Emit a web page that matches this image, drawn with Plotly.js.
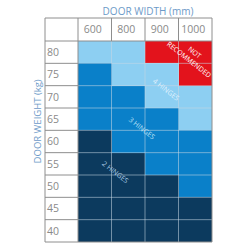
<!DOCTYPE html>
<html><head><meta charset="utf-8">
<script src="https://cdn.plot.ly/plotly-3.0.1.min.js"></script>
<style>html,body{margin:0;padding:0;background:#fff}#c{width:250px;height:250px}</style>
</head><body><div id="c"></div>
<script>
// Door width columns (mm)
const widths = ['600', '800', '900', '1000'];
// Door weight rows (kg), top to bottom
const weights = ['80', '75', '70', '65', '60', '55', '50', '45', '40'];
// Hinge category per cell: 0 = 2 hinges, 1 = 3 hinges, 2 = 4 hinges, 3 = not recommended
const hingeClass = [
  [2, 2, 3, 3],
  [1, 2, 2, 3],
  [1, 1, 2, 2],
  [1, 1, 1, 2],
  [0, 1, 1, 1],
  [0, 0, 1, 1],
  [0, 0, 0, 1],
  [0, 0, 0, 0],
  [0, 0, 0, 0]
];
const classNames = ['2 HINGES', '3 HINGES', '4 HINGES', 'NOT<br>RECOMMENDED'];

const cDark = '#0c3a5e', cMed = '#0a80c9', cLight = '#8dcff2', cRed = '#e3131c';
const grey = '#8e8e8e';
const font = 'Open Sans, DejaVu Sans, sans-serif';

const trace = {
  type: 'heatmap',
  x: widths, y: weights, z: hingeClass,
  zmin: 0, zmax: 3,
  colorscale: [[0, cDark], [1/3, cMed], [2/3, cLight], [1, cRed]],
  showscale: false, hoverinfo: 'skip'
};

const shapes = [];
const nC = widths.length, nR = weights.length;
const lx = -33/134, hy = 1 + 23/201;
// inner cell separators (semi transparent)
for (let i = 0; i < nC - 1; i++) shapes.push({type:'line', xref:'x', yref:'paper', x0:i+0.5, x1:i+0.5, y0:0, y1:1, line:{color:'rgba(200,215,228,0.55)', width:1}});
for (let j = 0; j < nR - 1; j++) shapes.push({type:'line', xref:'paper', yref:'y', x0:0, x1:1, y0:j+0.5, y1:j+0.5, line:{color:'rgba(200,215,228,0.55)', width:1}});
// header column separators
for (let i = 0; i < nC - 1; i++) shapes.push({type:'line', xref:'x', yref:'paper', x0:i+0.5, x1:i+0.5, y0:1, y1:hy, line:{color:grey, width:1}});
// label column row separators
for (let j = 0; j < nR - 1; j++) shapes.push({type:'line', xref:'paper', yref:'y', x0:lx, x1:0, y0:j+0.5, y1:j+0.5, line:{color:grey, width:1}});
// frame
shapes.push({type:'rect', xref:'paper', yref:'paper', x0:lx, x1:1, y0:0, y1:hy, line:{color:grey, width:1}});
shapes.push({type:'line', xref:'paper', yref:'paper', x0:0, x1:0, y0:0, y1:hy, line:{color:grey, width:1}});
shapes.push({type:'line', xref:'paper', yref:'paper', x0:lx, x1:1, y0:1, y1:1, line:{color:grey, width:1}});

const annotations = [
  {text:'DOOR WEIGHT (kg)', xref:'paper', yref:'paper', x:-41/134, y:0.6, xanchor:'center', yanchor:'middle', textangle:-90, showarrow:false, font:{family:font, size:9.5, color:'#6d9ac8'}},
  {text:classNames[3], x:2.9, y:0.17, textangle:38, showarrow:false, font:{family:font, size:7, color:'#ffffff'}},
  {text:classNames[2], x:2.13, y:1.65, textangle:38, showarrow:false, font:{family:font, size:7, color:'rgba(240,248,255,0.85)'}},
  {text:classNames[1], x:1.41, y:3.44, textangle:38, showarrow:false, font:{family:font, size:7, color:'#bfe2f7'}},
  {text:classNames[0], x:0.63, y:5.37, textangle:38, showarrow:false, font:{family:font, size:7, color:'#a9c9e2'}}
];

const layout = {
  width: 250, height: 250,
  margin: {l:78, r:38, t:41, b:8},
  paper_bgcolor: '#ffffff', plot_bgcolor: '#ffffff',
  title: {text:'DOOR WIDTH (mm)', x:148/250, xanchor:'center', y:1-11/250, yanchor:'middle', font:{family:font, size:10, color:'#6d9ac8'}},
  xaxis: {type:'category', side:'top', range:[-0.5, nC-0.5], showgrid:false, zeroline:false, showline:false, ticks:'', ticklabelstandoff:5, ticklabelshift:-2, tickfont:{family:font, size:10.5, color:'#8a8a8a'}, fixedrange:true},
  yaxis: {type:'category', range:[nR-0.5, -0.5], showgrid:false, zeroline:false, showline:false, ticks:'', ticklabelstandoff:18, tickfont:{family:font, size:10.5, color:'#8a8a8a'}, fixedrange:true},
  shapes: shapes,
  annotations: annotations,
  showlegend: false
};

Plotly.newPlot('c', [trace], layout, {staticPlot:true, displayModeBar:false});
</script>
</body></html>
